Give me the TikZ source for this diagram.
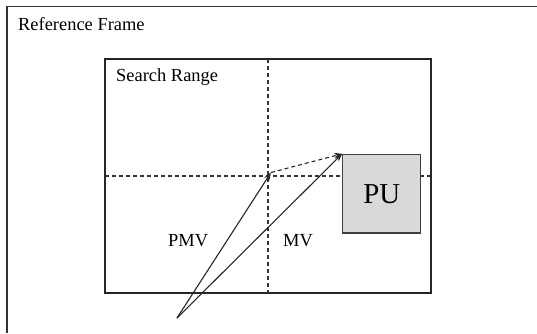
\documentclass[tikz,border=0pt]{standalone}
\usepackage{fontspec}
\setmainfont{Liberation Serif}
\usetikzlibrary{arrows.meta}

\begin{document}
\begin{tikzpicture}[x=1bp,y=-1bp,
    lbl/.style={inner sep=0pt, anchor=base west, font=\fontsize{18.5}{20}\selectfont},
    vec/.style={-{Stealth[length=8bp,width=6bp]}, line width=1.1bp, black!85},
    guide/.style={line width=1.1bp, black!80, dash pattern=on 4bp off 3bp}]
    \useasboundingbox (0,0) rectangle (537,333);
    % reference frame (cut off at right and bottom)
    \draw[line width=1.5bp, black!80] (537,6.5) -- (7,6.5) -- (7,333);
    \node[lbl] (ref) at (18,30) {Reference Frame};
    % search range with its two dashed axes
    \draw[line width=1.3bp, black!85] (105,59) rectangle (431,293);
    \node[lbl] (sr) at (116,81.5) {Search Range};
    \draw[guide] (268,59) -- (268,293);
    \draw[guide] (105,176) -- (431,176);
    \node[draw=black!75, line width=1.3bp, fill={rgb,255:red,217;green,217;blue,217},
          minimum width=78bp, minimum height=78.5bp, inner sep=0pt,
          font=\fontsize{29}{30}\selectfont] (pu) at (381.8,193.7) {PU};
    % vectors
    \coordinate (o) at (177,318);
    \coordinate (p) at (271,172.5);
    \draw[vec] (o) -- (p);
    \draw[vec] (o) -- (pu.north west);
    \draw[vec, dash pattern=on 4bp off 3bp] (p) -- (pu.north west);
    \node[lbl] (pmv) at (168,246.5) {PMV};
    \node[lbl] (mv) at (283,246.5) {MV};
\end{tikzpicture}
\end{document}
